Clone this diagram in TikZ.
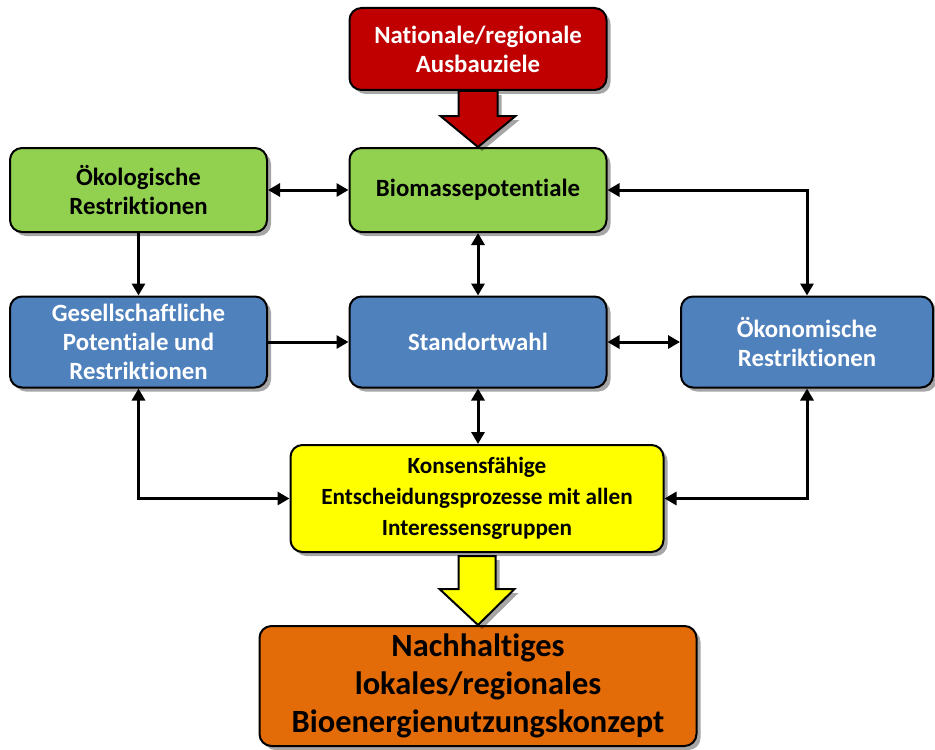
\documentclass[tikz,border=0pt]{standalone}
\usepackage{fontspec}
\setmainfont[Ligatures=NoCommon]{Carlito}
\usetikzlibrary{arrows.meta,shadows,calc}

\definecolor{zielrot}{RGB}{192,0,0}
\definecolor{gruen}{RGB}{146,208,80}
\definecolor{blau}{RGB}{79,129,189}
\definecolor{gelb}{RGB}{255,255,0}
\definecolor{orange}{RGB}{227,108,9}

\begin{document}
\begin{tikzpicture}[
    x=0.5pt, y=-0.5pt,
    box/.style={rectangle, rounded corners=6pt, draw=black, line width=1pt,
        align=center, minimum width=128.5pt, minimum height=42pt,
        font=\fontsize{12.4}{14.5}\selectfont\bfseries,
        drop shadow={shadow xshift=2pt, shadow yshift=-2pt, fill=black, opacity=0.35}},
    redbox/.style={box, fill=zielrot, text=white, minimum height=41pt},
    greenbox/.style={box, fill=gruen},
    bluebox/.style={box, fill=blau, text=white, minimum height=45.5pt},
    yellowbox/.style={box, fill=gelb, minimum width=186.5pt, minimum height=53.5pt,
        font=\fontsize{11.6}{15.5}\selectfont\bfseries},
    orangebox/.style={box, fill=orange, minimum width=218.5pt, minimum height=60pt,
        font=\fontsize{16.2}{19}\selectfont\bfseries},
    blockarrow/.style={draw=black, line width=1pt, line join=miter,
        drop shadow={shadow xshift=2pt, shadow yshift=-2pt, fill=black, opacity=0.35}},
    conn/.style={line width=1.5pt, -{Triangle[length=6pt,width=6.5pt]}},
    both/.style={line width=1.5pt, {Triangle[length=6pt,width=6.5pt]}-{Triangle[length=6pt,width=6.5pt]}}
]
    \useasboundingbox (0,0) rectangle (935,749);

    % Kaesten
    \node[redbox] (ziele) at (478,49) {Nationale/regionale\\Ausbauziele};
    \node[greenbox] (oekol) at (138.5,190) {Ökologische\\Restriktionen};
    \node[greenbox] (biomasse) at (478,190) {Biomassepotentiale};
    \node[bluebox] (gesell) at (138.5,342) {Gesellschaftliche\\Potentiale und\\Restriktionen};
    \node[bluebox] (standort) at (478,342) {Standortwahl};
    \node[bluebox, minimum width=126pt] (oekon) at (807,342) {Ökonomische\\Restriktionen};
    \node[yellowbox] (konsens) at (477,498.5) {Konsensfähige\\Entscheidungsprozesse mit allen\\Interessensgruppen};
    \node[orangebox] (konzept) at (478,686) {Nachhaltiges\\lokales/regionales\\Bioenergienutzungskonzept};

    % Blockpfeile
    \draw[blockarrow, fill=zielrot] ($(ziele.south)+(-19.5,0)$) -- ++(0,25) -- ++(-18,0)
        -- (biomasse.north) -- ($(ziele.south)+(37.5,25)$) -- ++(-18,0)
        -- ($(ziele.south)+(19.5,0)$) -- cycle;
    \draw[blockarrow, fill=gelb] ($(konsens.south)+(-18.5,3)$) -- ++(0,33) -- ++(-19,0)
        -- (konzept.north) -- ($(konsens.south)+(37.5,36)$) -- ++(-19,0)
        -- ($(konsens.south)+(18.5,3)$) -- cycle;

    % Verbindungen
    \draw[both] (oekol.east) -- (biomasse.west);
    \draw[conn] (oekol.south) -- (gesell.north);
    \draw[both] (biomasse.south) -- (standort.north);
    \draw[both] (biomasse.east) -| (oekon.north);
    \draw[conn] (gesell.east) -- (standort.west);
    \draw[both] (standort.east) -- (oekon.west);
    \draw[both] (standort.south) -- (konsens.north -| standort.south);
    \draw[both] (gesell.south) |- (konsens.west);
    \draw[both] (oekon.south) |- (konsens.east);

\end{tikzpicture}
\end{document}
